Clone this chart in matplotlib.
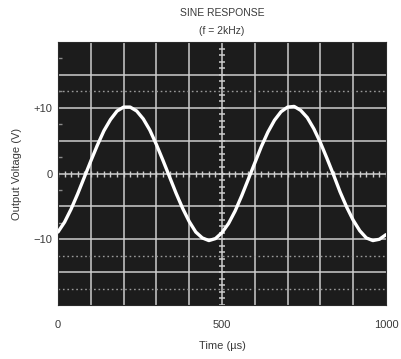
import numpy as np
import matplotlib
matplotlib.use("Agg")
import matplotlib.pyplot as plt

plt.rcParams['font.family'] = ['Liberation Sans', 'DejaVu Sans']

# Sampled oscilloscope trace: time (µs) and output voltage (V)
time_us = [0, 20, 40, 60, 80, 100, 120, 140, 160, 180, 200, 220, 240, 260,
           280, 300, 320, 340, 360, 380, 400, 420, 440, 460, 480, 500, 520,
           540, 560, 580, 600, 620, 640, 660, 680, 700, 720, 740, 760, 780,
           800, 820, 840, 860, 880, 900, 920, 940, 960, 980, 1000]
voltage_v = [-8.9, -7.4, -5.4, -3.1, -0.6, 1.9, 4.3, 6.5, 8.2, 9.5, 10.1,
             10.1, 9.5, 8.3, 6.6, 4.4, 2.0, -0.5, -3.0, -5.3, -7.3, -8.9,
             -9.8, -10.2, -9.9, -9.0, -7.6, -5.7, -3.4, -0.9, 1.6, 4.1, 6.3,
             8.1, 9.4, 10.1, 10.2, 9.6, 8.5, 6.8, 4.7, 2.3, -0.2, -2.8, -5.1,
             -7.1, -8.7, -9.8, -10.2, -10.0, -9.3]

x_ticks = [0, 500, 1000]
x_tick_labels = ["0", "500", "1000"]
y_ticks = [10, 0, -10]
y_tick_labels = ["+10", "0", "\u221210"]

title_lines = ["SINE RESPONSE", "(f = 2kHz)"]
x_label = "Time (\u00b5s)"
y_label = "Output Voltage (V)"

text_color = "#3a3a3a"
screen_color = "#1c1c1c"
grid_color = "#cdcdcd"

fig = plt.figure(figsize=(4.01, 3.59), dpi=100)
ax = fig.add_axes([58 / 401, 54 / 359, 328 / 401, 263 / 359])
ax.set_facecolor(screen_color)
ax.set_xlim(0, 1000)
ax.set_ylim(-20, 20)

# graticule: 10 x 8 divisions
for t in np.arange(100, 1000, 100):
    ax.axvline(t, color=grid_color, lw=1.1, zorder=1)
for v in np.arange(-15, 20, 5):
    ax.axhline(v, color=grid_color, lw=1.1, zorder=1)
# dotted half-division lines
for v in [12.5, -12.5, -17.5]:
    ax.axhline(v, color="#9a9a9a", lw=1.0, ls=(0, (1.2, 2.0)), zorder=1)

# minor ticks on the central axes and the left edge
ax.plot(np.full(40, 500.0), np.arange(-20, 20, 1.0), ls="none", marker="_",
        ms=5, mew=1.1, color=grid_color, zorder=1)
ax.plot(np.arange(0, 1001, 20.0), np.zeros(51), ls="none", marker="|",
        ms=4, mew=1.0, color=grid_color, zorder=1)
ax.plot(np.zeros(6), [-7.5, -2.5, 2.5, 7.5, 12.5, 17.5], ls="none",
        marker="_", ms=6, mew=1.0, color="#8a8a8a", zorder=1)

ax.plot(time_us, voltage_v, color="white", lw=2.4, solid_capstyle="round",
        solid_joinstyle="round", zorder=3)

for s in ax.spines.values():
    s.set_color("#2a2a2a")
    s.set_linewidth(0.8)

ax.set_xticks(x_ticks)
ax.set_xticklabels(x_tick_labels)
ax.set_yticks(y_ticks)
ax.set_yticklabels(y_tick_labels)
ax.tick_params(axis="both", length=0, labelsize=8, colors=text_color)
ax.tick_params(axis="x", pad=11)
ax.tick_params(axis="y", pad=4)

ax.set_xlabel(x_label, fontsize=8, color=text_color, labelpad=8)
ax.set_ylabel(y_label, fontsize=8, color=text_color, labelpad=8)

fig.text((58 + 164) / 401, 1 - 13 / 359, title_lines[0], ha="center",
         va="center", fontsize=7.5, color=text_color)
fig.text((58 + 164) / 401, 1 - 30.5 / 359, title_lines[1], ha="center",
         va="center", fontsize=7.5, color=text_color)

fig.savefig("out.png", dpi=100)
